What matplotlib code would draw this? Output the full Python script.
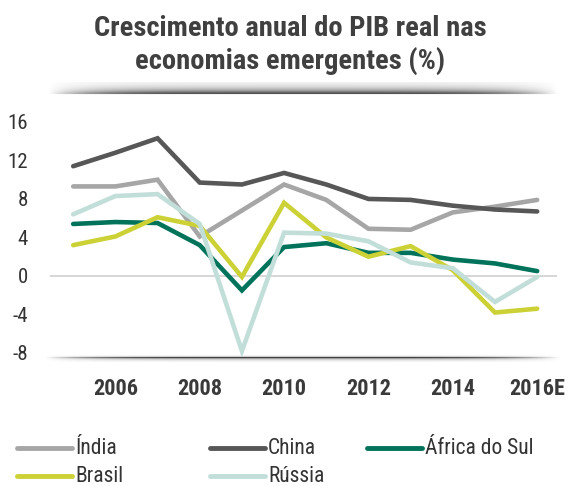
import matplotlib
matplotlib.use("Agg")
import matplotlib.pyplot as plt
from matplotlib import font_manager
from matplotlib.lines import Line2D
import numpy as np

# pick a condensed family that has both regular and bold faces
weights = {}
for f in font_manager.fontManager.ttflist:
    if "Condensed" in f.name or "Narrow" in f.name:
        w = f.weight if isinstance(f.weight, int) else 400
        weights.setdefault(f.name, set()).add(w)
good = [n for n, ws in weights.items() if any(w >= 600 for w in ws) and any(350 <= w <= 500 for w in ws)]
good.sort(key=lambda n: (0 if "Roboto" in n else 1, n))
plt.rcParams['font.family'] = good[:1] + ['DejaVu Sans']

years = list(range(2005, 2017))
tick_years = [2006, 2008, 2010, 2012, 2014, 2016]
tick_labels = ["2006", "2008", "2010", "2012", "2014", "2016E"]

india = [9.3, 9.3, 10.0, 4.1, 6.8, 9.5, 7.9, 4.9, 4.8, 6.6, 7.2, 7.9]
china = [11.4, 12.8, 14.3, 9.7, 9.5, 10.7, 9.5, 8.0, 7.9, 7.3, 6.9, 6.7]
south_africa = [5.4, 5.6, 5.5, 3.2, -1.5, 3.0, 3.4, 2.4, 2.4, 1.7, 1.3, 0.5]
brazil = [3.2, 4.1, 6.1, 5.2, -0.1, 7.6, 4.0, 2.0, 3.1, 0.6, -3.8, -3.4]
russia = [6.4, 8.3, 8.5, 5.4, -7.8, 4.5, 4.4, 3.6, 1.4, 0.8, -2.7, -0.1]

series = [
    ("Índia", india, "#a6a6a6"),
    ("China", china, "#575757"),
    ("África do Sul", south_africa, "#00735a"),
    ("Brasil", brazil, "#ccd136"),
    ("Rússia", russia, "#c2ded8"),
]
draw_order = [4, 0, 1, 2, 3]

W, H = 571, 486
fig = plt.figure(figsize=(W / 100, H / 100), dpi=100)
fig.patch.set_facecolor("white")


def shadow(y_dark, x0, x1, up, down):
    # fake drop shadow: darkest row at y_dark, fading up/down and towards the ends
    top = y_dark - up
    h = up + down + 1
    sax = fig.add_axes([x0 / W, 1 - (top + h) / H, (x1 - x0) / W, h / H])
    xs = np.linspace(-1, 1, 400)
    rows = np.arange(h) - up
    prof_x = np.clip(1 - np.abs(xs) ** 5, 0, 1)
    prof_y = np.where(rows <= 0, np.exp(rows / max(up, 1) * 2.8),
                      np.exp(-rows / max(down, 1) * 2.8))
    img = np.outer(prof_y, prof_x)
    rgba = np.zeros(img.shape + (4,))
    rgba[..., :3] = 0.25
    rgba[..., 3] = img
    sax.imshow(rgba, aspect="auto", interpolation="bilinear")
    sax.axis("off")


shadow(93, 48, 558, 11, 1)
shadow(357, 45, 560, 2, 4)

ax = fig.add_axes([50 / W, (H - 357) / H, 507 / W, 237 / H])
ax.patch.set_alpha(0)
ax.axhline(0, color="#d0d0d0", lw=1.2, zorder=1)
for i in draw_order:
    name, vals, col = series[i]
    ax.plot(years, vals, color=col, lw=3.3, solid_capstyle="round",
            solid_joinstyle="miter", zorder=2 + i)

ax.set_xlim(2004.45, 2016.47)
ax.set_ylim(-8.42, 16.2)
ax.set_yticks([-8, -4, 0, 4, 8, 12, 16])
ax.set_yticklabels(["-8", "-4", "0", "4", "8", "12", "16"], fontsize=15, color="#333333")
ax.set_xticks(tick_years)
ax.set_xticklabels(tick_labels, fontsize=16, fontweight="bold", color="#3a3a3a")
ax.tick_params(length=0)
ax.tick_params(axis="y", pad=16)
ax.tick_params(axis="x", pad=15)
for s in ax.spines.values():
    s.set_visible(False)

fig.text(290 / W, 1 - 28 / H, "Crescimento anual do PIB real nas",
         ha="center", va="center", fontsize=20.5, fontweight="bold", color="#404040")
fig.text(290 / W, 1 - 61 / H, "economias emergentes (%)",
         ha="center", va="center", fontsize=20.5, fontweight="bold", color="#404040")

legend_pos = [(17, 448), (210, 448), (367, 448), (17, 476), (210, 476)]
for (name, vals, col), (lx, ly) in zip(series, legend_pos):
    fig.add_artist(Line2D([lx / W, (lx + 55) / W], [1 - ly / H, 1 - ly / H],
                          color=col, lw=3.5, solid_capstyle="round"))
    fig.text((lx + 58) / W, 1 - ly / H, name, ha="left", va="center",
             fontsize=15.5, color="#333333")

fig.savefig("out.png", dpi=100, facecolor="white")
